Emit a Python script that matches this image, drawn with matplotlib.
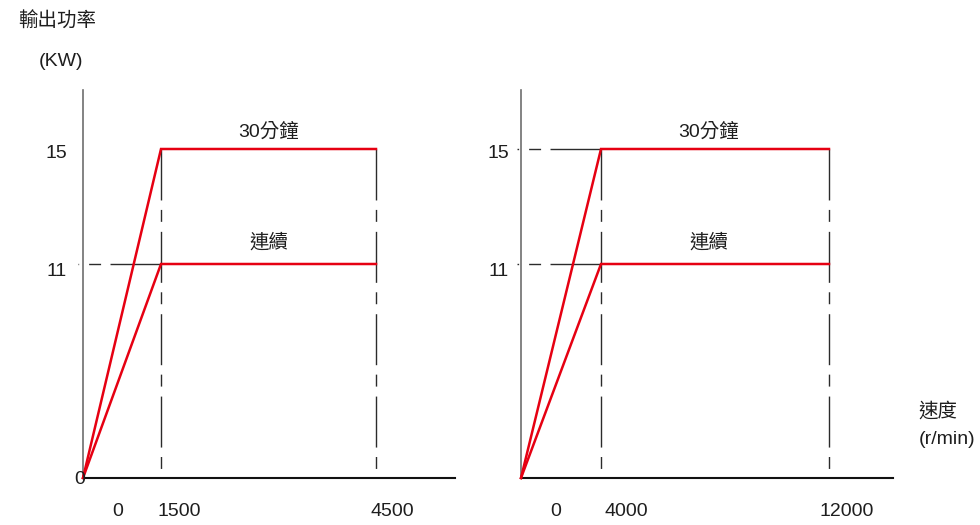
import numpy as np
import matplotlib
matplotlib.use('Agg')
import matplotlib.pyplot as plt

plt.rcParams['font.family'] = ['Liberation Sans', 'Noto Sans CJK TC']
plt.rcParams['lines.scale_dashes'] = False

# Data
speed_left = [0, 1500, 4500]        # r/min
speed_right = [0, 4000, 12000]      # r/min
power_30min = 15                    # KW
power_cont = 11                     # KW
label_30min = '30分鐘'
label_cont = '連續'
xlabels_left = ['0', '1500', '4500']
xlabels_right = ['0', '4000', '12000']

# Layout (pixel offsets of the schematic axes, not data)
left_px = [0, 78, 293, 372]
right_px = [0, 80, 308, 372]
left_xmax = 5600
right_xmax = 14250
y_px = [0, 214, 329, 388]
y_max = 17.05

red = '#e60012'
guide = '#2b2b2b'
txt = '#1e1e1e'
dash = (0, (36.7, 6.8, 8.6, 7.2))
fs = 14


def piecewise(xp, fp):
    xp = np.asarray(xp, float)
    fp = np.asarray(fp, float)

    def f(x):
        x = np.asarray(x, float)
        y = np.interp(x, xp, fp)
        y = np.where(x < xp[0], fp[0] + (x - xp[0]) * (fp[1] - fp[0]) / (xp[1] - xp[0]), y)
        y = np.where(x > xp[-1], fp[-1] + (x - xp[-1]) * (fp[-1] - fp[-2]) / (xp[-1] - xp[-2]), y)
        return y
    return f


fig = plt.figure(figsize=(9.8, 5.25), dpi=100)
ax1 = fig.add_axes([83 / 980, 1 - 478 / 525, 372 / 980, 388 / 525])
ax2 = fig.add_axes([521 / 980, 1 - 478 / 525, 372 / 980, 388 / 525])

yp = [0, power_cont, power_30min, y_max]
panels = [
    (ax1, speed_left, left_px, left_xmax, xlabels_left, -96, False, -16,
     [35, 18, 16], True, 0),
    (ax2, speed_right, right_px, right_xmax, xlabels_right, -200, True, -12,
     [35, 25, 18], False, -6),
]

for ax, sp, px, xmax, xl, x_stub, guide15, ypad, xdx, zero_lab, tdx in panels:
    xp = [0, sp[1], sp[2], xmax]
    ax.set_xscale('function', functions=(piecewise(xp, px), piecewise(px, xp)))
    ax.set_yscale('function', functions=(piecewise(yp, y_px), piecewise(y_px, yp)))
    ax.set_xlim(0, xmax)
    ax.set_ylim(0, y_max)

    for s in ['top', 'right']:
        ax.spines[s].set_visible(False)
    ax.spines['left'].set_color('#6e6e6e')
    ax.spines['left'].set_linewidth(1.2)
    ax.spines['bottom'].set_color('#111111')
    ax.spines['bottom'].set_linewidth(1.5)
    ax.set_xticks([])
    ax.set_yticks([])
    ax.patch.set_alpha(0)

    # guide lines
    for xv in sp[1:]:
        ax.plot([xv, xv], [power_30min, 0], color=guide, lw=1.0, linestyle=dash,
                clip_on=False, zorder=2)
    ax.plot([sp[1], x_stub], [power_cont, power_cont], color=guide, lw=1.0,
            linestyle=dash, clip_on=False, zorder=2)
    if guide15:
        ax.plot([sp[1], x_stub], [power_30min, power_30min], color=guide, lw=1.0,
                linestyle=dash, clip_on=False, zorder=2)

    # power curves
    ax.plot(sp, [0, power_30min, power_30min], color=red, lw=1.8,
            solid_joinstyle='miter', clip_on=False, zorder=3)
    ax.plot(sp, [0, power_cont, power_cont], color=red, lw=1.8,
            solid_joinstyle='miter', clip_on=False, zorder=3)

    mid = (sp[1] + sp[2]) / 2
    ax.annotate(label_30min, xy=(mid, power_30min), xytext=(tdx, 17),
                textcoords='offset pixels', ha='center', va='center',
                fontsize=fs, color=txt)
    ax.annotate(label_cont, xy=(mid, power_cont), xytext=(tdx, 22),
                textcoords='offset pixels', ha='center', va='center',
                fontsize=fs, color=txt)

    # y labels
    ax.annotate(str(power_30min), xy=(0, power_30min), xytext=(ypad, -5),
                textcoords='offset pixels', ha='right', va='center',
                fontsize=fs, color=txt, annotation_clip=False)
    ax.annotate(str(power_cont), xy=(0, power_cont), xytext=(ypad, -8),
                textcoords='offset pixels', ha='right', va='center',
                fontsize=fs, color=txt, annotation_clip=False)
    if zero_lab:
        ax.annotate('0', xy=(0, 0), xytext=(-3, -1), textcoords='offset pixels',
                    ha='center', va='center', fontsize=fs, color=txt,
                    annotation_clip=False)

    # x labels
    for xv, lab, dx in zip(sp, xl, xdx):
        ax.annotate(lab, xy=(xv, 0), xytext=(dx, -33), textcoords='offset pixels',
                    ha='center', va='center', fontsize=fs, color=txt,
                    annotation_clip=False)

fig.text(57 / 980, 1 - 21 / 525, '輸出功率', ha='center', va='center', fontsize=fs, color=txt)
fig.text(61 / 980, 1 - 61 / 525, '(KW)', ha='center', va='center', fontsize=fs, color=txt)
fig.text(938 / 980, 1 - 411 / 525, '速度', ha='center', va='center', fontsize=fs, color=txt)
fig.text(947 / 980, 1 - 440 / 525, '(r/min)', ha='center', va='center', fontsize=fs, color=txt)

fig.savefig('out.png', dpi=100)
